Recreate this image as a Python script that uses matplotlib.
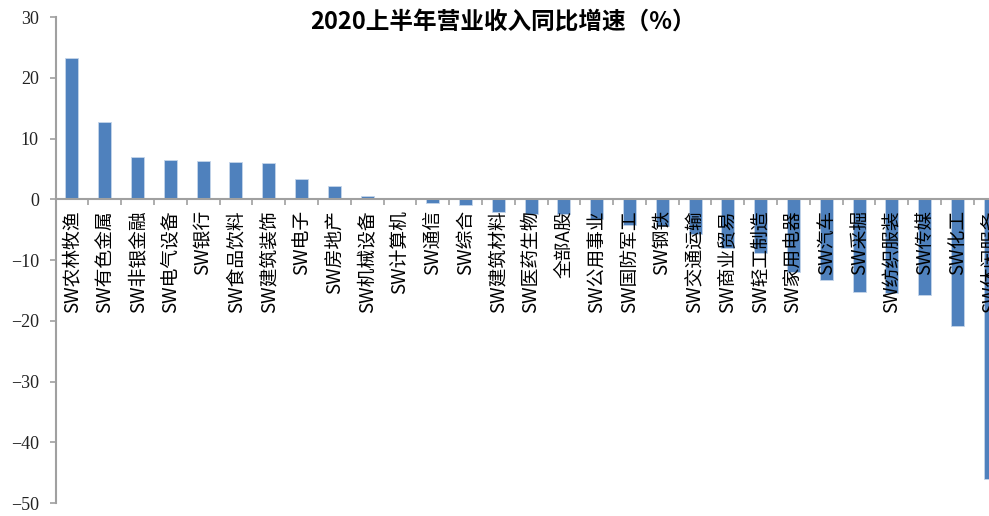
import matplotlib
matplotlib.use("Agg")
import matplotlib.pyplot as plt
import numpy as np

categories = ["SW农林牧渔", "SW有色金属", "SW非银金融", "SW电气设备", "SW银行", "SW食品饮料",
              "SW建筑装饰", "SW电子", "SW房地产", "SW机械设备", "SW计算机", "SW通信", "SW综合",
              "SW建筑材料", "SW医药生物", "全部A股", "SW公用事业", "SW国防军工", "SW钢铁",
              "SW交通运输", "SW商业贸易", "SW轻工制造", "SW家用电器", "SW汽车", "SW采掘",
              "SW纺织服装", "SW传媒", "SW化工", "SW休闲服务"]
values = [23.2, 12.7, 6.9, 6.5, 6.3, 6.1, 5.9, 3.4, 2.2, 0.5, 0.2, -0.6, -1.0,
          -2.1, -2.4, -2.4, -3.3, -4.2, -4.4, -5.8, -8.1, -8.8, -12.0, -13.3, -15.2,
          -15.5, -15.8, -20.8, -46.0]
yticks = [30, 20, 10, 0, -10, -20, -30, -40, -50]
title = "2020上半年营业收入同比增速（%）"

W, H = 989, 516
fig = plt.figure(figsize=(W / 100, H / 100), dpi=100)
left = 55.5 / W
width = 29 * 32.8 / W
bottom = 1 - 503 / H
top = 1 - 17 / H
ax = fig.add_axes([left, bottom, width, top - bottom])
ax.set_axisbelow(False)

x = np.arange(len(categories))
ax.bar(x, values, width=0.4, color="#4F81BD", edgecolor="#c5d5ea", linewidth=0.6, zorder=1)

ax.set_xlim(-0.5, len(categories) - 0.5)
ax.set_ylim(-50, 30)

gray = "#a0a0a0"
for s in ["top", "right"]:
    ax.spines[s].set_visible(False)
ax.spines["left"].set_color(gray)
ax.spines["left"].set_linewidth(1.5)
ax.spines["bottom"].set_position(("data", 0))
ax.spines["bottom"].set_color(gray)
ax.spines["bottom"].set_linewidth(1.5)
ax.spines["bottom"].set_zorder(3)

ax.set_yticks(yticks)
ax.set_yticklabels([str(v).replace("-", "\u2212") for v in yticks],
                   fontfamily="Liberation Serif", fontsize=13, color="#222222")
ax.tick_params(axis="y", direction="out", length=4, width=1.2, color=gray, pad=8)

ax.set_xticks(x)
ax.set_xticklabels(categories, rotation=90, fontfamily=["Noto Sans CJK SC", "DejaVu Sans"],
                   fontsize=13.5, color="black")
ax.tick_params(axis="x", which="major", length=0, pad=8)
ax.set_xticks(np.arange(len(categories) + 1) - 0.5, minor=True)
ax.tick_params(axis="x", which="minor", direction="out", length=4, width=1.2, color=gray)

fig.text(503 / W, 1 - 22 / H, title, ha="center", va="center",
         fontfamily=["Noto Sans CJK SC", "DejaVu Sans"], fontweight="bold", fontsize=17)

fig.savefig("out.png", dpi=100)
